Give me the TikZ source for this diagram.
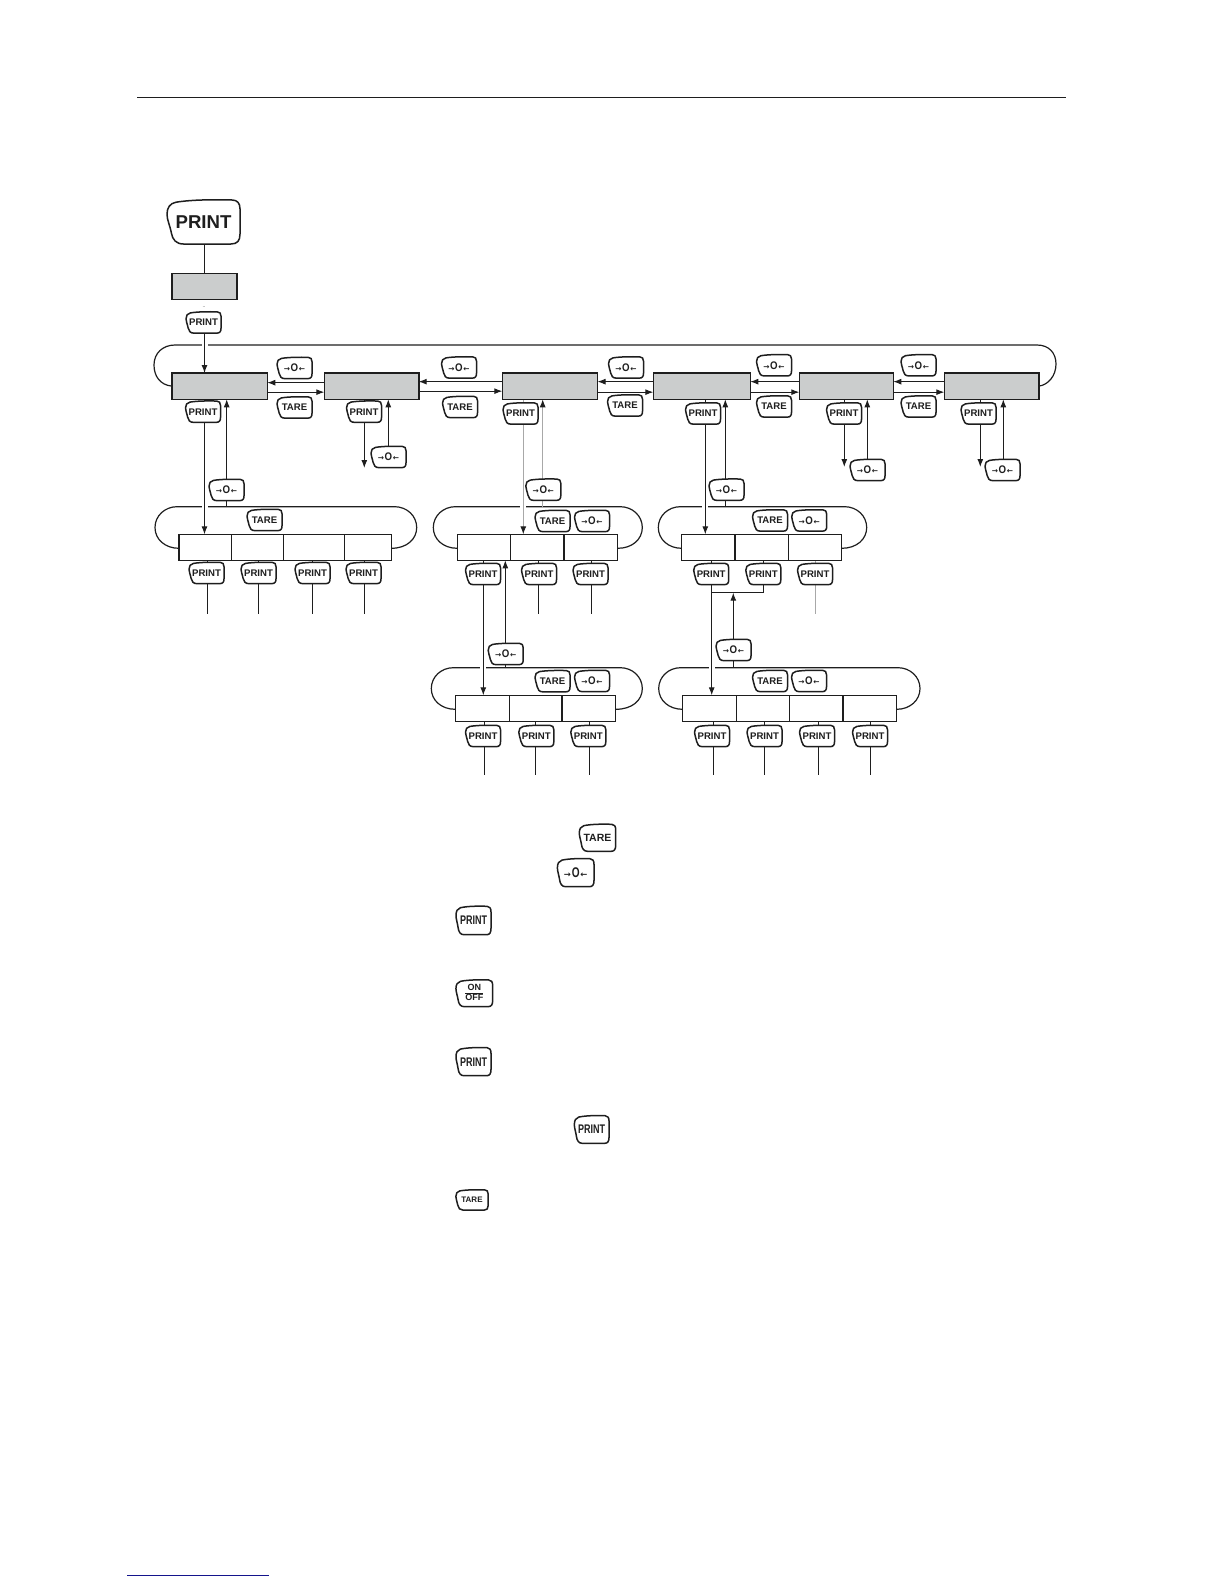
\documentclass[tikz,border=0pt]{standalone}
\usepackage{fontspec}
\setmainfont{Liberation Sans}
\newfontfamily\dvfont{DejaVu Sans}
\usetikzlibrary{arrows.meta}
\pgfdeclarelayer{back}
\pgfsetlayers{back,main}
\definecolor{ink}{HTML}{1E1E1E}
\definecolor{panel}{HTML}{CBCDCD}
\definecolor{faint}{HTML}{A8A8A8}
\definecolor{linkblue}{HTML}{14148C}
\tikzset{
  keyline/.style={draw=ink,fill=white,line width=1.5pt,line join=round},
  keytext/.style={text=ink,inner sep=0pt,outer sep=0pt,font=\bfseries},
  panelbox/.style={draw=ink,fill=panel,line width=1.6pt,inner sep=0pt,outer sep=0pt},
  cellbox/.style={draw=ink,fill=white,line width=1.1pt,inner sep=0pt,outer sep=0pt},
  conn/.style={draw=ink,line width=1pt},
  arr/.style={conn,-{Latex[length=8pt,width=6pt,color=ink]}},
  gapped/.style={preaction={draw=white,line width=6pt,-}},
  pale/.style={draw=faint},
  loopline/.style={draw=ink,line width=1.2pt},
}
% key: name, x, y, w, h, text
\newcommand{\keyn}[6]{%
  \path[keyline,shift={(#2,#3)},xscale=#4/2,yscale=#5/2]
    (-.75,-.9) .. controls (-.3,-1.02) and (.3,-1.02) .. (.78,-1)
    .. controls (.93,-1) and (1,-.85) .. (1,-.6) -- (1,.55)
    .. controls (1,.85) and (.93,1) .. (.75,1) -- (-.55,1)
    .. controls (-.75,1) and (-.85,.8) .. (-.88,.5)
    .. controls (-.92,.15) and (-1,-.1) .. (-1,-.35)
    .. controls (-1,-.65) and (-.92,-.85) .. (-.75,-.9) -- cycle;
  \node[keytext,minimum width=#4pt,minimum height=#5pt] (#1) at (#2,#3) {#6};}
\newcommand{\printtxt}{\fontsize{9.6}{10}\selectfont PRINT}
\newcommand{\taretxt}{\fontsize{9.6}{10}\selectfont TARE}
\newcommand{\zerotxt}{\fontsize{11}{11}\selectfont{\dvfont\bfseries\fontsize{7.4}{8}\selectfont →}\kern.6pt\scalebox{.88}[1]{O}\kern.6pt{\dvfont\bfseries\fontsize{7.4}{8}\selectfont ←}}
\newcommand{\zerobig}{\fontsize{14}{14}\selectfont{\dvfont\bfseries\fontsize{8.4}{8}\selectfont →}\kern.8pt\scalebox{.72}[1]{O}\kern.8pt{\dvfont\bfseries\fontsize{8.4}{8}\selectfont ←}}
\newcommand{\pk}[3]{\keyn{#1}{#2}{#3}{35}{21.3}{\printtxt}}
\newcommand{\tk}[3]{\keyn{#1}{#2}{#3}{35}{21.3}{\taretxt}}
\newcommand{\zk}[3]{\keyn{#1}{#2}{#3}{35}{21.3}{\zerotxt}}
% box from corners: style, name, x1, y1, x2, y2
\newcommand{\boxn}[6]{\node[#1,minimum width={(#5-#3)*1pt},minimum height={(#6-#4)*1pt}] (#2) at ({(#3+#5)/2},{(#4+#6)/2}) {};}
% vertical link past a key's centre line: [style]{key}{x offset}{from}{to}
\newcommand{\vlink}[5][conn]{\coordinate (vtmp) at ([xshift=#3pt]#2.center); \draw[#1] (vtmp |- #4) -- (vtmp |- #5);}
% horizontal link: [style]{reference}{y offset}{from}{to}
\newcommand{\hlink}[5][arr]{\coordinate (htmp) at ([yshift=#3pt]#2.center); \draw[#1] (htmp -| #4) -- (htmp -| #5);}
% oval behind a row: west-node, east-node, xleft, xright, ytop, yend
\newcommand{\ovalrow}[6]{%
  \draw[loopline] (#1.west |- 0,#6) .. controls (#3+10,#6) and (#3,#6-9) .. (#3,{(#5+#6)/2})
    .. controls (#3,#5+9) and (#3+10,#5) .. (#3+22,#5) -- (#4-22,#5)
    .. controls (#4-10,#5) and (#4,#5+9) .. (#4,{(#5+#6)/2})
    .. controls (#4,#6-9) and (#4-10,#6) .. (#2.east |- 0,#6);}
\begin{document}
\begin{tikzpicture}[x=1pt,y=-1pt]
\useasboundingbox (0,0) rectangle (1224,1584);
\coordinate (TopU) at (0,506.7);
\coordinate (TopL) at (0,667.7);
\coordinate (EndU) at (0,614);
\coordinate (EndL) at (0,775);

% rules
\coordinate (RuleA) at (137,97);
\coordinate (RuleB) at (1066,97);
\draw[draw=ink,line width=.8pt] (RuleA) -- (RuleB);
\coordinate (LinkA) at (127,1575);
\coordinate (LinkB) at (269,1575);
\draw[draw=linkblue,line width=1pt] (LinkA) -- (LinkB);

% first column
\keyn{K0}{203.5}{222}{73}{44}{\fontsize{18.6}{20}\selectfont PRINT}
\boxn{panelbox}{B0}{172}{273.3}{237}{299.3}
\node[keytext,font=\fontsize{5}{5}\selectfont] (D0) at (204,307.5) {..};
\pk{PA}{203.5}{322.5}

% menu row
\boxn{panelbox}{B1}{172}{373}{267.3}{399.3}
\boxn{panelbox}{B2}{324.3}{373}{418.7}{399.3}
\boxn{panelbox}{B3}{502.3}{373}{597.5}{399.3}
\boxn{panelbox}{B4}{653.3}{373}{750.3}{399.3}
\boxn{panelbox}{B5}{799.3}{373}{893.3}{399.3}
\boxn{panelbox}{B6}{944.3}{373}{1038.7}{399.3}

\zk{ZT1}{294.5}{368} \tk{TT1}{294.5}{407.5}
\zk{ZT2}{459}{367.5} \tk{TT2}{460}{407}
\zk{ZT3}{626}{367.5} \tk{TT3}{625}{405.5}
\zk{ZT4}{774}{365.3} \tk{TT4}{774}{406.5}
\zk{ZT5}{918.5}{365.3} \tk{TT5}{918.5}{406.5}

\pk{PB1}{203}{411.7}
\pk{PB2}{364}{411.7}
\pk{PB3}{520.5}{413.5}
\pk{PB4}{703}{413.5}
\pk{PB5}{844}{413.5}
\pk{PB6}{978.5}{413.5}
\zk{ZB1}{226.5}{490}
\zk{ZB2}{388.5}{457}
\zk{ZB3}{543.3}{489.7}
\zk{ZB4}{726.5}{489.7}
\zk{ZB5}{867.5}{470}
\zk{ZB6}{1002.5}{470}
\coordinate (EndB2) at (0,468);
\coordinate (EndB5) at (0,467);

% group 1
\boxn{cellbox}{G1a}{179}{534.3}{231.7}{560.3}
\boxn{cellbox}{G1b}{231.7}{534.3}{283.3}{560.3}
\boxn{cellbox}{G1c}{283.3}{534.3}{344.3}{560.3}
\boxn{cellbox}{G1d}{344.3}{534.3}{391.3}{560.3}
\tk{TG1}{264.5}{520}
\pk{PG1a}{206.5}{573}
\pk{PG1b}{258.5}{573}
\pk{PG1c}{312.5}{573}
\pk{PG1d}{363.5}{573}

% group 2
\boxn{cellbox}{G2a}{457.3}{534.3}{510.3}{560.3}
\boxn{cellbox}{G2b}{510.3}{534.3}{564}{560.3}
\boxn{cellbox}{G2c}{564}{534.3}{617.7}{560.3}
\tk{TG2}{552.5}{521} \zk{ZG2}{592}{521}
\pk{PG2a}{483}{574}
\pk{PG2b}{539}{574}
\pk{PG2c}{590.5}{574}
\zk{ZG2up}{505.7}{654}

% group 3
\boxn{cellbox}{G3a}{681.7}{534.3}{735}{560.3}
\boxn{cellbox}{G3b}{735}{534.3}{788.3}{560.3}
\boxn{cellbox}{G3c}{788.3}{534.3}{841.7}{560.3}
\tk{TG3}{770}{520.5} \zk{ZG3}{809.2}{520.5}
\pk{PG3a}{711.2}{574}
\pk{PG3b}{763.3}{574}
\pk{PG3c}{815}{574}
\zk{ZG3up}{733.5}{650}
\coordinate (J3) at (711.7,592.7);

% group 4
\boxn{cellbox}{G4a}{455.3}{695.3}{509.3}{721.3}
\boxn{cellbox}{G4b}{509.3}{695.3}{562}{721.3}
\boxn{cellbox}{G4c}{562}{695.3}{615.7}{721.3}
\tk{TG4}{552.5}{681.2} \zk{ZG4}{592}{681}
\pk{PG4a}{483}{736}
\pk{PG4b}{536.3}{736}
\pk{PG4c}{588.3}{736}

% group 5
\boxn{cellbox}{G5a}{682.7}{695.3}{736.3}{721.3}
\boxn{cellbox}{G5b}{736.3}{695.3}{789.3}{721.3}
\boxn{cellbox}{G5c}{789.3}{695.3}{843}{721.3}
\boxn{cellbox}{G5d}{843}{695.3}{896.7}{721.3}
\tk{TG5}{770}{681} \zk{ZG5}{809}{681}
\pk{PG5a}{712}{736}
\pk{PG5b}{764.5}{736}
\pk{PG5c}{817}{736}
\pk{PG5d}{870}{736}

% legend keys
\keyn{LT1}{597.5}{837.8}{36.4}{27}{\fontsize{10.5}{11}\selectfont TARE}
\keyn{LZ1}{575.7}{872.7}{36.6}{28}{\zerobig}
\keyn{LP1}{473.5}{920.5}{35}{28.4}{\scalebox{.72}[1]{\fontsize{12.5}{13}\selectfont PRINT}}
\keyn{LO1}{474.3}{993.3}{36.7}{26.7}{\fontsize{9}{9}\selectfont\setlength{\arrayrulewidth}{.9pt}\renewcommand{\arraystretch}{1.05}\begin{tabular}{@{}c@{}}ON\\\hline OFF\end{tabular}}
\keyn{LP2}{473.5}{1061.7}{35}{28}{\scalebox{.72}[1]{\fontsize{12.5}{13}\selectfont PRINT}}
\keyn{LP3}{591.7}{1129.5}{34.7}{27.6}{\scalebox{.72}[1]{\fontsize{12.5}{13}\selectfont PRINT}}
\keyn{LT2}{472}{1200}{32.3}{20.3}{\fontsize{8}{9}\selectfont TARE}

\begin{pgfonlayer}{back}
% large ovals
\draw[loopline] (B1.west) .. controls (160,385) and (154,376) .. (154,365)
  .. controls (154,353) and (163,345) .. (175,345) -- (1037,345)
  .. controls (1049,345) and (1056,353) .. (1056,364)
  .. controls (1056,376) and (1048,385) .. (B6.east);
\ovalrow{G1a}{G1d}{155}{416.7}{506.7}{548.3}
\ovalrow{G2a}{G2c}{433.3}{642.3}{506.7}{548.3}
\ovalrow{G3a}{G3c}{658.3}{866.7}{506.7}{548.3}
\ovalrow{G4a}{G4c}{431.3}{642.3}{667.7}{709.3}
\ovalrow{G5a}{G5d}{658.7}{920}{667.7}{709.3}

% top
\vlink{K0}{1}{K0.south}{B0.north}
\vlink[arr,gapped]{PA}{1}{PA.south}{B1.north}

% horizontal arrows
\hlink{B1}{3.5}{B2.west}{B1.east}
\hlink{B1}{-6}{B1.east}{B2.west}
\hlink{B2}{4.5}{B3.west}{B2.east}
\hlink{B2}{-5}{B2.east}{B3.west}
\hlink{B3}{4.5}{B4.west}{B3.east}
\hlink{B3}{-6}{B3.east}{B4.west}
\hlink{B4}{4.5}{B5.west}{B4.east}
\hlink{B4}{-6}{B4.east}{B5.west}
\hlink{B5}{4.5}{B6.west}{B5.east}
\hlink{B5}{-6}{B5.east}{B6.west}

% menu to groups
\vlink[arr,gapped]{PB1}{1.5}{B1.south}{G1a.north}
\vlink[arr]{ZB1}{.2}{TopU}{B1.south}
\vlink[arr]{PB2}{.3}{B2.south}{EndB2}
\vlink[arr]{ZB2}{-.2}{ZB2.south}{B2.south}
\vlink[arr,pale,gapped]{PB3}{2.8}{B3.south}{G2b.north}
\vlink[arr,pale]{ZB3}{-.6}{TopU}{B3.south}
\vlink[arr,gapped]{PB4}{2.3}{B4.south}{G3a.north}
\vlink[arr]{ZB4}{-1.2}{TopU}{B4.south}
\vlink[arr]{PB5}{.3}{B5.south}{EndB5}
\vlink[arr]{ZB5}{-.2}{ZB5.south}{B5.south}
\vlink[arr]{PB6}{1.8}{B6.south}{EndB5}
\vlink[arr]{ZB6}{.8}{ZB6.south}{B6.south}

% group 1 out
\vlink{PG1a}{.8}{G1a.south}{EndU}
\vlink{PG1b}{-.2}{G1b.south}{EndU}
\vlink{PG1c}{-.2}{G1c.south}{EndU}
\vlink{PG1d}{.8}{G1d.south}{EndU}
% group 2 out
\vlink[arr,gapped]{PG2a}{.3}{G2a.south}{G4a.north}
\vlink{PG2b}{-.7}{G2b.south}{EndU}
\vlink{PG2c}{1.2}{G2c.south}{EndU}
\vlink[arr]{ZG2up}{-.4}{TopL}{G2a.south}
% group 3 out
\vlink[arr,gapped]{PG3a}{.5}{G3a.south}{G5a.north}
\vlink{PG3b}{.4}{G3b.south}{PG3b.south}
\draw[conn] (J3) -| (PG3b.south);
\vlink[conn,pale]{PG3c}{.3}{G3c.south}{EndU}
\vlink[arr]{ZG3up}{-.2}{TopL}{J3}
% group 4 out
\vlink{PG4a}{1.3}{G4a.south}{EndL}
\vlink{PG4b}{-.6}{G4b.south}{EndL}
\vlink{PG4c}{1}{G4c.south}{EndL}
% group 5 out
\vlink{PG5a}{1.7}{G5a.south}{EndL}
\vlink{PG5b}{-.2}{G5b.south}{EndL}
\vlink{PG5c}{1.3}{G5c.south}{EndL}
\vlink{PG5d}{.3}{G5d.south}{EndL}
\end{pgfonlayer}
\end{tikzpicture}
\end{document}
